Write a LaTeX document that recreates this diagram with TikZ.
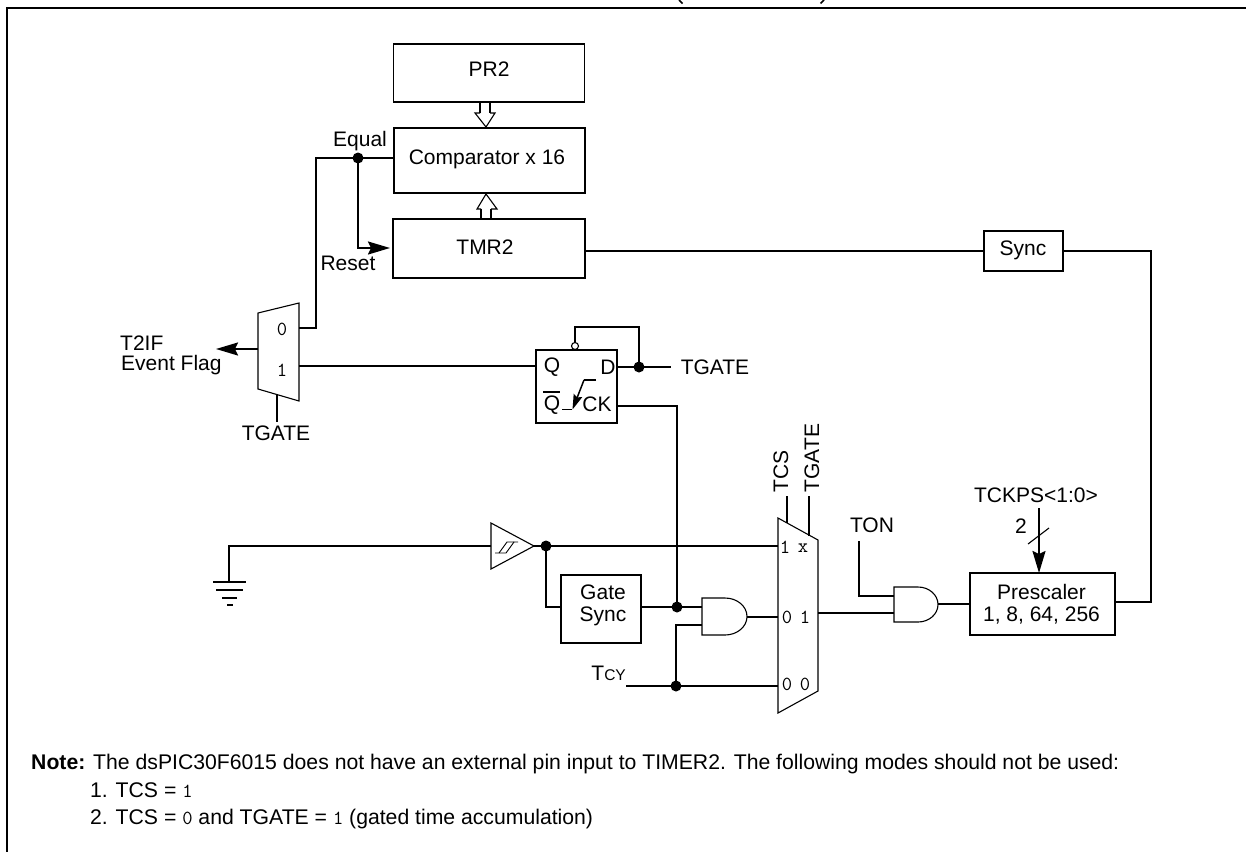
\documentclass[tikz,border=0pt]{standalone}
\usepackage{fontspec}
\setmainfont{Liberation Sans}
\usetikzlibrary{arrows.meta,calc}
\newcommand{\mm}[1]{{\fontsize{20}{20}\selectfont\ttfamily #1}}
\tikzset{
 wire/.style={line width=1.9pt,line cap=butt,line join=miter},
 thin line/.style={line width=1.1pt,line join=miter},
 box/.style={draw,line width=1.9pt,inner sep=0pt,align=center,font=\fontsize{21}{22}\selectfont},
 lbl/.style={inner sep=0pt,align=left,font=\fontsize{21}{22}\selectfont},
 monolbl/.style={inner sep=0pt,font=\fontsize{20}{20}\selectfont\ttfamily},
 notetext/.style={inner sep=0pt,anchor=base west,font=\fontsize{21.2}{22}\selectfont},
 dot/.style={circle,fill=black,inner sep=0pt,minimum size=11pt},
 solidhead/.style={-{Stealth[length=22pt,width=13pt,inset=3pt]}},
 clockhead/.style={-{Stealth[length=15pt,width=9pt,inset=2pt]}},
}
\begin{document}
\begin{tikzpicture}[x=1pt,y=-1pt]
\useasboundingbox (0,0) rectangle (1246,852);
\fill[white] (0,0) rectangle (1246,852);
% frame
\coordinate (fTL) at (7,8);
\coordinate (fTR) at (1246,8);
\coordinate (fBL) at (7,852);
\draw[wire,line width=2pt] (fTR) -- (fTL) -- (fBL);
\draw[wire,line width=1.5pt] (679,0) -- (682.5,3.5);
\draw[wire,line width=1.5pt] (824,0) -- (820.5,3.5);
% boxes
\node[box,minimum width=191pt,minimum height=58pt] (pr2) at (489,73) {};
\node[lbl] (pr2t) at (489,69) {PR2};
\node[box,minimum width=191pt,minimum height=65pt] (cmp) at (489.5,160.5) {};
\node[lbl] (cmpt) at (487,159) {Comparator x 16};
\node[box,minimum width=192pt,minimum height=59pt] (tmr) at (489,248.5) {};
\node[lbl] (tmrt) at (485,247) {TMR2};
\node[box,minimum width=79pt,minimum height=40pt] (sync) at (1023.5,251) {};
\node[lbl] (synct) at (1023,250) {Sync};
\node[box,minimum width=145pt,minimum height=62pt] (pre) at (1042.5,604) {};
\node[lbl,align=center] (pret) at (1041.5,604) {Prescaler\\[-0.5pt]1, 8, 64, 256};
\node[box,minimum width=80pt,minimum height=68pt] (gs) at (601,609) {};
\node[lbl,align=center] (gst) at (603,605.5) {Gate\\[-0.5pt]Sync};
\node[box,minimum width=81pt,minimum height=73pt] (ff) at (576.5,386.5) {};
\node[lbl] (ffq) at (552,367) {Q};
\node[lbl] (ffd) at (608,367) {D};
\node[lbl] (ffqb) at (552,405) {Q};
\draw[line width=1.5pt] (543,392) -- (560,392);
\node[lbl] (ffck) at (597,404) {CK};
% hollow bus arrows
\coordinate (ha1) at (486,127);
\draw[thin line,fill=white] (480,113) -- (475,113) -- (ha1) -- (495,113) -- (490,113);
\draw[wire] (480,102) -- (480,113);
\draw[wire] (490,102) -- (490,113);
\coordinate (ha2) at (486,194);
\draw[thin line,fill=white] (481,209) -- (477,209) -- (ha2) -- (497,209) -- (491,209);
\draw[wire] (481,209) -- (481,219);
\draw[wire,line width=1.3pt] (491,209) -- (491,219);
% equal / reset
\coordinate (eqj) at (358,158);
\coordinate (cmpL) at (394,158);
\coordinate (m0) at (299,328);
\coordinate (m1) at (299,366);
\coordinate (resetT) at (390,248);
\draw[wire] (cmpL) -- (316,158) -- (316,328) -- (m0);
\draw[wire,solidhead] (eqj) -- (358,248) -- (resetT);
\node[dot] (eqd) at (eqj) {};
\node[lbl] (equal) at (360,141) {Equal};
\node[lbl] (reset) at (348,263.5) {Reset};
% TMR2 to prescaler
\draw[wire] (tmr.east |- sync.west) -- (sync.west);
\draw[wire] (sync.east) -- (1151,251) -- (1151,602) -- (pre.east |- 0,602);
% small mux
\coordinate (sm1) at (258,313);
\coordinate (sm2) at (299,303);
\coordinate (sm3) at (299,401);
\coordinate (sm4) at (258,389);
\draw[thin line] (sm1) -- (sm2) -- (sm3) -- (sm4) -- cycle;
\node[monolbl] (sm0l) at (282,329) {0};
\node[monolbl] (sm1l) at (282,370) {1};
\coordinate (evT) at (216,349);
\draw[wire,solidhead] (258,349) -- (evT);
\node[lbl,anchor=west] (t2if) at (120,343) {T2IF};
\node[lbl,anchor=west] (ev) at (121,365) {Event Flag};
\coordinate (smgt) at (277,422);
\draw[wire] (277,395) -- (smgt);
\node[lbl] (smg) at (276,433.5) {TGATE};
% flip flop wires
\draw[wire] (m1) -- (ff.west |- m1);
\coordinate (dj) at (639,367);
\coordinate (dend) at (671,367);
\draw[wire] (ff.east |- dj) -- (dend);
\node[dot] (djd) at (dj) {};
\node[circle,draw,line width=1.1pt,inner sep=0pt,minimum size=7pt,fill=white] (bub) at (575,346) {};
\draw[wire] (dj) -- (639,327) -- (575,327) -- (bub.north);
\node[lbl] (ffg) at (715,367) {TGATE};
\draw[wire,line width=1.5pt] (562,409.5) -- (572,409.5);
\draw[wire,line width=1.5pt] (596,380) -- (584,380);
\draw[wire,line width=1.5pt,clockhead] (584,380) -- (572.5,409.5);
% large mux
\coordinate (mA) at (778,518);
\coordinate (mB) at (818,540);
\coordinate (mC) at (818,691);
\coordinate (mD) at (778,713);
\draw[thin line] (mA) -- (mB) -- (mC) -- (mD) -- cycle;
\node[monolbl] (l1a) at (785,547) {1};
\node[monolbl] (l1b) at (803,548) {x};
\node[monolbl] (l2a) at (787,617) {0};
\node[monolbl] (l2b) at (805,617) {1};
\node[monolbl] (l3a) at (787,684) {0};
\node[monolbl] (l3b) at (805,684) {0};
\coordinate (tcsT) at (787,496);
\coordinate (tgT) at (809,496);
\draw[wire] (tcsT) -- (787,523);
\draw[wire] (tgT) -- (809,536);
\node[lbl,rotate=90] (tcs) at (781,471) {TCS};
\node[lbl,rotate=90] (tgv) at (812,458) {TGATE};
% CK line
\coordinate (gj) at (677,607);
\draw[wire] (ff.east |- 0,406) -- (677,406) -- (gj);
% buffer
\coordinate (bA) at (491,523);
\coordinate (bB) at (491,569);
\coordinate (bC) at (534,546);
\draw[thin line] (bA) -- (bC) -- (bB) -- cycle;
\draw[line width=.9pt] (495,553) -- (506,553) -- (514,542) -- (518,542);
\draw[line width=.9pt] (499,553) -- (507,542) -- (514,542);
\coordinate (bj) at (546,546);
\coordinate (gnd) at (229,582);
\draw[wire] (bA |- bj) -- (229,546) -- (gnd);
\draw[wire] (bC) -- (mA |- bj);
\node[dot] (bjd) at (bj) {};
\draw[wire] (bj) -- (546,607) -- (gs.west |- 0,607);
\draw[wire] (213,582) -- (246,582);
\draw[wire] (216,590) -- (243,590);
\draw[wire] (222,598) -- (237,598);
\draw[wire] (227,605) -- (233,605);
% and 1
\coordinate (a1L) at (702,598);
\draw[thin line] (a1L) -- (725,598) arc[start angle=-90,end angle=90,x radius=22,y radius=18.5] -- (702,635) -- cycle;
\draw[wire] (gs.east |- 0,607) -- (a1L |- 0,607);
\node[dot] (gjd) at (gj) {};
\draw[wire] (747,617) -- (mA |- 0,617);
\coordinate (tj) at (676,686);
\coordinate (tcyE) at (626,686);
\draw[wire] (tcyE) -- (mA |- tj);
\draw[wire] (tj) -- (676,625) -- (702,625);
\node[dot] (tjd) at (tj) {};
\node[lbl,anchor=east] (tcy) at (626,673) {T{\fontsize{15.5}{16}\selectfont CY}};
% and 2
\coordinate (a2L) at (894,587);
\draw[thin line] (a2L) -- (918,587) arc[start angle=-90,end angle=90,x radius=20,y radius=17.5] -- (894,622) -- cycle;
\coordinate (tonT) at (859,541);
\draw[wire] (tonT) -- (859,596) -- (894,596);
\node[lbl] (ton) at (872,525) {TON};
\draw[wire] (mB |- 0,613) -- (894,613);
\draw[wire] (938,604) -- (pre.west |- 0,604);
% prescale select
\node[lbl] (tck) at (1036,495) {TCKPS<1:0>};
\coordinate (tckB) at (1039,508);
\draw[wire,solidhead] (tckB) -- (1039,573);
\draw[thin line] (1028,544) -- (1049,528);
\node[lbl] (two) at (1021,526) {2};
% note
\node[notetext] (n1) at (31,769) {\textbf{Note:} The dsPIC30F6015 does not have an external pin input to TIMER2. The following modes should not be used:};
\node[notetext] (n2) at (90,797) {1. TCS = \mm{1}};
\node[notetext] (n3) at (90,824) {2. TCS = \mm{0} and TGATE = \mm{1} (gated time accumulation)};
\end{tikzpicture}
\end{document}
